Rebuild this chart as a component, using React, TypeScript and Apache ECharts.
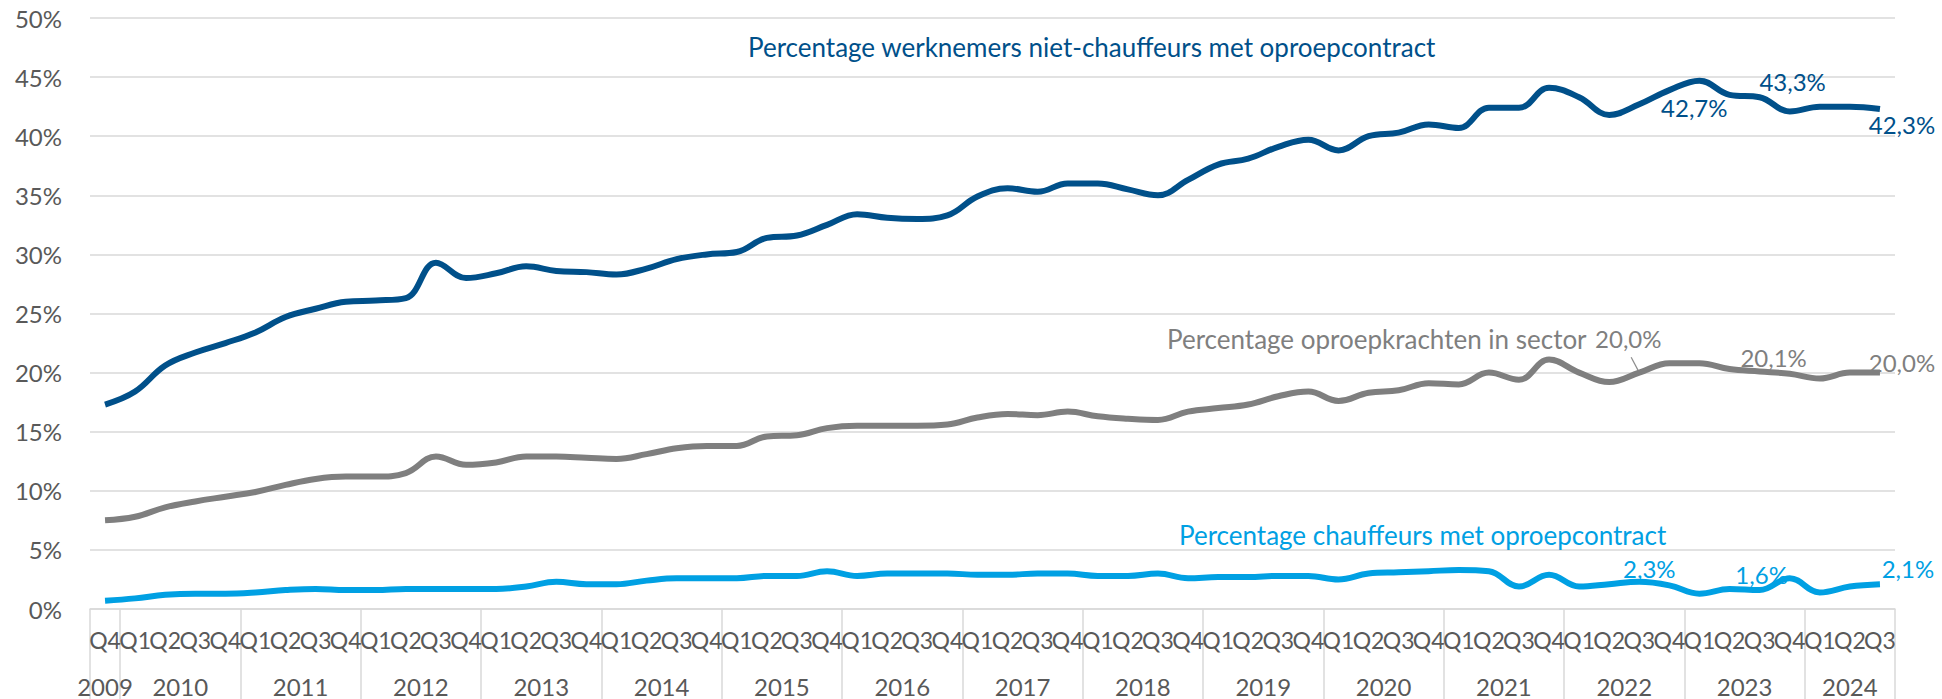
import React, { useEffect, useRef } from 'react';
import * as echarts from 'echarts';

// ---------- data ----------
const yearLabels = ['2009', '2010', '2011', '2012', '2013', '2014', '2015', '2016', '2017', '2018', '2019', '2020', '2021', '2022', '2023', '2024'];
const yearQuarters = [
  ['Q4'],
  ['Q1', 'Q2', 'Q3', 'Q4'], ['Q1', 'Q2', 'Q3', 'Q4'], ['Q1', 'Q2', 'Q3', 'Q4'], ['Q1', 'Q2', 'Q3', 'Q4'],
  ['Q1', 'Q2', 'Q3', 'Q4'], ['Q1', 'Q2', 'Q3', 'Q4'], ['Q1', 'Q2', 'Q3', 'Q4'], ['Q1', 'Q2', 'Q3', 'Q4'],
  ['Q1', 'Q2', 'Q3', 'Q4'], ['Q1', 'Q2', 'Q3', 'Q4'], ['Q1', 'Q2', 'Q3', 'Q4'], ['Q1', 'Q2', 'Q3', 'Q4'],
  ['Q1', 'Q2', 'Q3', 'Q4'], ['Q1', 'Q2', 'Q3', 'Q4'],
  ['Q1', 'Q2', 'Q3'],
];

const nietChauffeurs = [
  17.3, 18.4, 20.6, 21.7, 22.5,
  23.4, 24.7, 25.4, 26.0,
  26.1, 26.3, 29.3, 28.0,
  28.4, 29.0, 28.6, 28.5,
  28.3, 28.8, 29.6, 30.0,
  30.2, 31.4, 31.6, 32.5,
  33.4, 33.1, 33.0, 33.3,
  34.9, 35.6, 35.3, 36.0,
  36.0, 35.5, 35.0, 36.3,
  37.6, 38.1, 39.1, 39.7,
  38.8, 40.0, 40.3, 41.0,
  40.7, 42.4, 42.4, 44.1,
  43.3, 41.8, 42.7, 43.9,
  44.7, 43.5, 43.3, 42.1,
  42.5, 42.5, 42.3,
];

const sector = [
  7.5, 7.8, 8.6, 9.1, 9.5,
  9.9, 10.5, 11.0, 11.2,
  11.2, 11.5, 12.9, 12.2,
  12.4, 12.9, 12.9, 12.8,
  12.7, 13.1, 13.6, 13.8,
  13.8, 14.6, 14.7, 15.3,
  15.5, 15.5, 15.5, 15.6,
  16.2, 16.5, 16.4, 16.7,
  16.3, 16.1, 16.0, 16.7,
  17.0, 17.3, 18.0, 18.4,
  17.6, 18.3, 18.5, 19.1,
  19.0, 20.0, 19.4, 21.1,
  20.0, 19.2, 20.0, 20.8,
  20.8, 20.3, 20.1, 19.9,
  19.5, 20.0, 20.0,
];

const chauffeurs = [
  0.7, 0.9, 1.2, 1.3, 1.3,
  1.4, 1.6, 1.7, 1.6,
  1.6, 1.7, 1.7, 1.7,
  1.7, 1.9, 2.3, 2.1,
  2.1, 2.4, 2.6, 2.6,
  2.6, 2.8, 2.8, 3.2,
  2.8, 3.0, 3.0, 3.0,
  2.9, 2.9, 3.0, 3.0,
  2.8, 2.8, 3.0, 2.6,
  2.7, 2.7, 2.8, 2.8,
  2.5, 3.0, 3.1, 3.2,
  3.3, 3.2, 1.9, 2.9,
  1.9, 2.1, 2.3, 2.0,
  1.3, 1.7, 1.6, 2.6,
  1.4, 1.9, 2.1,
];

const yTicks = [0, 5, 10, 15, 20, 25, 30, 35, 40, 45, 50];
const labelledIndexes = [51, 55, 59];
// leader line of the gray "20,0%" label: [boundary-unit x, value]
const leaderLine = [[51.23, 21.3], [51.5, 20.0]];

const seriesNames = [
  'Percentage werknemers niet-chauffeurs met oproepcontract',
  'Percentage oproepkrachten in sector',
  'Percentage chauffeurs met oproepcontract',
];

// ---------- derived ----------
const quarterLabels: string[] = yearQuarters.flat();
const yearStarts: number[] = [];
{
  let s = 0;
  yearQuarters.forEach((q) => { yearStarts.push(s); s += q.length; });
}
const boundarySet = new Set<number>(yearStarts);
const yearAt = new Map<number, string>();
yearQuarters.forEach((q, i) => {
  yearAt.set(Math.round((yearStarts[i] + q.length / 2) * 2), yearLabels[i]);
});

const FONT = 'Lato, "Noto Sans", sans-serif';
const C_DARK = '#00508a';
const C_GRAY = '#7f7f7f';
const C_LIGHT = '#00a0e3';
const AXIS_TEXT = '#595959';
const GRID = '#d9d9d9';

const fmt = (v: number) => v.toFixed(1).replace('.', ',') + '%';

type LabelCfg = { offset: [number, number] };

function buildData(values: number[], color: string, cfg: Record<number, LabelCfg>) {
  return values.map((v, i) => {
    const c = cfg[i];
    if (!c) return v;
    return {
      value: v,
      label: {
        show: true,
        position: 'inside',
        offset: c.offset,
        formatter: () => fmt(v),
        color,
        fontSize: 24,
        fontFamily: FONT,
      },
    };
  });
}

export default function App() {
  const ref = useRef<HTMLDivElement>(null);

  useEffect(() => {
    if (!ref.current) return;
    const chart = echarts.init(ref.current, undefined, { renderer: 'svg' });

    const darkCfg: Record<number, LabelCfg> = {
      [labelledIndexes[0]]: { offset: [55, 3] },
      [labelledIndexes[1]]: { offset: [33, -16] },
      [labelledIndexes[2]]: { offset: [22, 15] },
    };
    const grayCfg: Record<number, LabelCfg> = {
      [labelledIndexes[0]]: { offset: [-11, -34] },
      [labelledIndexes[1]]: { offset: [14, -14] },
      [labelledIndexes[2]]: { offset: [22, -10] },
    };
    const lightCfg: Record<number, LabelCfg> = {
      [labelledIndexes[0]]: { offset: [10, -13] },
      [labelledIndexes[1]]: { offset: [2, -16] },
      [labelledIndexes[2]]: { offset: [28, -16] },
    };

    const lineSeries = (name: string, values: number[], color: string, cfg: Record<number, LabelCfg>) => ({
      type: 'line',
      name,
      data: buildData(values, color, cfg),
      smooth: 0.4,
      symbol: 'circle',
      symbolSize: 0.1,
      showSymbol: true,
      showAllSymbol: true,
      itemStyle: { color },
      lineStyle: { color, width: 6 },
      emphasis: { disabled: true },
      z: 3,
    });

    chart.setOption({
      animation: false,
      backgroundColor: '#ffffff',
      grid: { left: 90, right: 47, top: 18, bottom: 90, containLabel: false },
      xAxis: [
        {
          type: 'category',
          data: quarterLabels,
          boundaryGap: true,
          axisLine: { show: true, lineStyle: { color: GRID, width: 1.5 } },
          axisTick: { show: false },
          axisLabel: { interval: 0, fontSize: 23, color: AXIS_TEXT, fontFamily: FONT, margin: 19 },
          splitLine: { show: false },
        },
        {
          type: 'category',
          data: quarterLabels,
          boundaryGap: true,
          position: 'bottom',
          offset: 0,
          axisLine: { show: false },
          axisLabel: { show: false },
          axisTick: {
            show: true,
            interval: (idx: number) => boundarySet.has(idx),
            length: 92,
            lineStyle: { color: GRID, width: 1.5 },
          },
          splitLine: { show: false },
        },
        {
          type: 'value',
          min: 0,
          max: quarterLabels.length,
          interval: 0.5,
          position: 'bottom',
          offset: 0,
          axisLine: { show: false },
          axisTick: { show: false },
          splitLine: { show: false },
          axisLabel: {
            formatter: (v: number) => yearAt.get(Math.round(v * 2)) ?? '',
            margin: 65,
            fontSize: 24,
            color: AXIS_TEXT,
            fontFamily: FONT,
            showMinLabel: true,
            showMaxLabel: true,
          },
        },
      ],
      yAxis: {
        type: 'value',
        min: yTicks[0],
        max: yTicks[yTicks.length - 1],
        interval: yTicks[1] - yTicks[0],
        axisLine: { show: false },
        axisTick: { show: false },
        axisLabel: { formatter: (v: number) => `${v}%`, fontSize: 24, color: AXIS_TEXT, fontFamily: FONT, margin: 28 },
        splitLine: { lineStyle: { color: GRID, width: 1.5 } },
      },
      series: [
        lineSeries(seriesNames[0], nietChauffeurs, C_DARK, darkCfg),
        lineSeries(seriesNames[1], sector, C_GRAY, grayCfg),
        lineSeries(seriesNames[2], chauffeurs, C_LIGHT, lightCfg),
        {
          type: 'line',
          name: 'leader',
          xAxisIndex: 2,
          data: leaderLine,
          symbol: 'none',
          lineStyle: { color: '#8c8c8c', width: 1.2 },
          emphasis: { disabled: true },
          silent: true,
          z: 2,
        },
      ],
      graphic: [
        {
          type: 'text', x: 748, y: 47, z: 10,
          style: { text: seriesNames[0], fill: C_DARK, fontSize: 26, fontFamily: FONT, textAlign: 'left', textVerticalAlign: 'middle' },
        },
        {
          type: 'text', x: 1167, y: 339, z: 10,
          style: { text: seriesNames[1], fill: C_GRAY, fontSize: 26, fontFamily: FONT, textAlign: 'left', textVerticalAlign: 'middle' },
        },
        {
          type: 'text', x: 1179, y: 535, z: 10,
          style: { text: seriesNames[2], fill: C_LIGHT, fontSize: 26, fontFamily: FONT, textAlign: 'left', textVerticalAlign: 'middle' },
        },
      ],
    });

    return () => chart.dispose();
  }, []);

  return (
    <div
      ref={ref}
      style={{ position: 'absolute', left: 0, top: 0, width: 1942, height: 699, background: '#fff' }}
    />
  );
}
